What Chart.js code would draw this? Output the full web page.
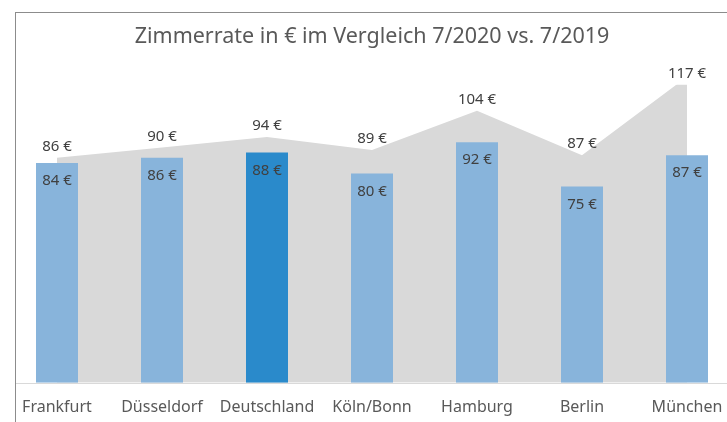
<!DOCTYPE html>
<html>
<head>
<meta charset="utf-8">
<script src="https://cdn.jsdelivr.net/npm/chart.js@4"></script>
<style>
  html, body { margin: 0; padding: 0; background: #fff; overflow: hidden; }
  #wrap { position: absolute; left: 0; top: 0; width: 740px; height: 422px; overflow: hidden; }
  #frame { position: absolute; left: 15px; top: 12px; width: 800px; height: 500px;
           border-left: 1px solid #8c8c8c; border-top: 1px solid #8c8c8c; }
</style>
</head>
<body>
<div id="frame"></div>
<div id="wrap"><canvas id="chart" width="740" height="442"></canvas></div>
<script>
// Zimmerrate in € – 7/2020 (Säulen) gegen 7/2019 (Fläche)
const cities = ['Frankfurt', 'Düsseldorf', 'Deutschland', 'Köln/Bonn', 'Hamburg', 'Berlin', 'München'];
const rate2019 = [86, 90, 94, 89, 104, 87, 117];
const rate2020 = [84, 86, 88, 80, 92, 75, 87];
const highlight = 'Deutschland';

const barColors = cities.map((c) => (c === highlight ? '#2a8acb' : '#88b4db'));
const fontFamily = '"Noto Sans", "Open Sans", sans-serif';

// draws the € labels (above the area, inside the top of the bars)
const valueLabels = {
  id: 'valueLabels',
  afterDatasetsDraw(chart) {
    const ctx = chart.ctx;
    const top = chart.chartArea.top;
    ctx.save();
    ctx.font = '15px ' + fontFamily;
    ctx.fillStyle = '#404040';
    ctx.textAlign = 'center';
    ctx.textBaseline = 'middle';
    chart.data.datasets.forEach((ds, i) => {
      const meta = chart.getDatasetMeta(i);
      meta.data.forEach((el, j) => {
        const txt = ds.data[j] + ' €';
        if (ds.type === 'bar') {
          ctx.fillText(txt, el.x, el.y + 18);
        } else {
          // the area is clipped at the plot top, so keep the label there
          ctx.fillText(txt, el.x, Math.max(el.y, top) - 11);
        }
      });
    });
    ctx.restore();
  },
};

// thin light axis line starting at the frame
const baseLine = {
  id: 'baseLine',
  afterDraw(chart) {
    const ctx = chart.ctx;
    const y = Math.round(chart.chartArea.bottom) + 0.5;
    ctx.save();
    ctx.strokeStyle = '#d9d9d9';
    ctx.lineWidth = 1;
    ctx.beginPath();
    ctx.moveTo(16, y);
    ctx.lineTo(chart.width, y);
    ctx.stroke();
    ctx.restore();
  },
};

new Chart(document.getElementById('chart'), {
  data: {
    labels: cities,
    datasets: [
      {
        type: 'bar',
        label: '7/2020',
        data: rate2020,
        backgroundColor: barColors,
        borderWidth: 0,
        categoryPercentage: 1,
        barPercentage: 0.4,
        order: 1,
      },
      {
        type: 'line',
        label: '7/2019',
        data: rate2019,
        fill: 'origin',
        backgroundColor: '#d9d9d9',
        borderWidth: 0,
        pointRadius: 0,
        tension: 0,
        order: 2,
      },
    ],
  },
  options: {
    responsive: false,
    animation: false,
    layout: { padding: { left: 4.5, right: 0.5, top: 0, bottom: 10 } },
    plugins: {
      legend: { display: false },
      tooltip: { enabled: false },
      title: {
        display: true,
        text: 'Zimmerrate in € im Vergleich 7/2020 vs. 7/2019',
        color: '#595959',
        font: { family: fontFamily, size: 21.5, weight: 'normal' },
        padding: { top: 24, bottom: 34.8 },
      },
    },
    scales: {
      x: {
        offset: true,
        grid: { display: false, drawTicks: false },
        border: { display: false },
        ticks: {
          color: '#595959',
          padding: 15,
          font: { family: fontFamily, size: 16 },
          maxRotation: 0,
          autoSkip: false,
        },
      },
      y: {
        display: false,
        min: 0,
        max: 114,
      },
    },
  },
  plugins: [valueLabels, baseLine],
});
</script>
</body>
</html>
